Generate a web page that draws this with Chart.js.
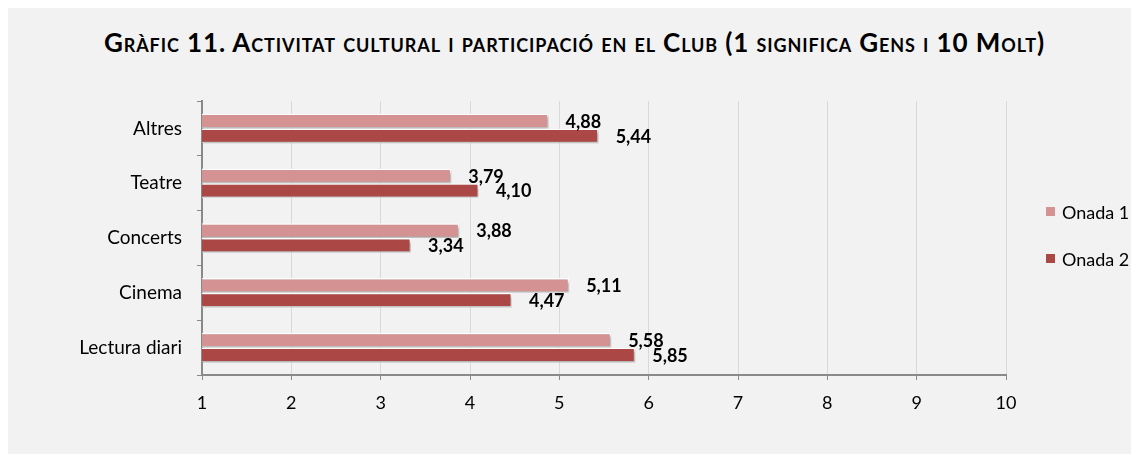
<!DOCTYPE html>
<html>
<head>
<meta charset="utf-8">
<script src="https://cdn.jsdelivr.net/npm/chart.js@4.4.0/dist/chart.umd.min.js"></script>
<style>
    html, body { margin: 0; padding: 0; background: #ffffff; }
    body { width: 1131px; height: 454px; position: relative; overflow: hidden; font-family: Lato, 'Open Sans', sans-serif; }
    .panel { position: absolute; left: 8px; top: 8px; right: 0; bottom: 0; background: #f2f2f2; }
    .title { position: absolute; left: 9px; width: 1131px; top: 27px; line-height: 30px; text-align: center; font-weight: bold; font-size: 26px; letter-spacing: 0.9px; font-variant: small-caps; color: #000; }
    #chart { position: absolute; left: 0; top: 0; }
    .legend { position: absolute; left: 1046px; height: 22px; line-height: 22px; font-size: 18px; color: #000; white-space: nowrap; }
    .legend span { position: absolute; left: 0; top: 6px; width: 9px; height: 9px; }
    .legend b { position: absolute; left: 16px; top: 0; font-weight: normal; }
</style>
</head>
<body>
<div class="panel"></div>
<div class="title">Gràfic 11. Activitat cultural i participació en el Club (1 significa Gens i 10 Molt)</div>
<canvas id="chart" width="1131" height="454"></canvas>
<div class="legend" id="leg1" style="top:201px"></div>
<div class="legend" id="leg2" style="top:248px"></div>
<script>
    // Data
    const categories = ['Altres', 'Teatre', 'Concerts', 'Cinema', 'Lectura diari'];
    const onada1 = [4.88, 3.79, 3.88, 5.11, 5.58];
    const onada2 = [5.44, 4.10, 3.34, 4.47, 5.85];
    const seriesNames = ['Onada 1', 'Onada 2'];
    const seriesColors = ['#d49392', '#ab4846'];

    // Legend (HTML)
    ['leg1', 'leg2'].forEach(function(id, i) {
        document.getElementById(id).innerHTML = '<span style="background:' + seriesColors[i] + '"></span><b>' + seriesNames[i] + '</b>';
    });

    // Bar shadow
    const shadowPlugin = {
        id: 'barShadow',
        beforeDatasetsDraw: function(chart) {
            const ctx = chart.ctx;
            ctx.save();
            ctx.shadowColor = 'rgba(0, 0, 0, 0.35)';
            ctx.shadowBlur = 3;
            ctx.shadowOffsetX = 2;
            ctx.shadowOffsetY = 2;
        },
        afterDatasetsDraw: function(chart) {
            chart.ctx.restore();
        }
    };

    // Value labels
    const valueLabels = {
        id: 'valueLabels',
        afterDraw: function(chart) {
            const ctx = chart.ctx;
            ctx.save();
            ctx.font = 'bold 18px Lato, sans-serif';
            ctx.fillStyle = '#000';
            ctx.textBaseline = 'middle';
            ctx.textAlign = 'left';
            chart.data.datasets.forEach(function(ds, di) {
                chart.getDatasetMeta(di).data.forEach(function(bar, i) {
                    const txt = ds.data[i].toFixed(2).replace('.', ',');
                    ctx.fillText(txt, bar.x + 17, bar.y + 1);
                });
            });
            ctx.restore();
        }
    };

    const ctx = document.getElementById('chart').getContext('2d');
    const chart = new Chart(ctx, {
        type: 'bar',
        data: {
            labels: categories,
            datasets: [
                {
                    label: seriesNames[0],
                    data: onada1,
                    backgroundColor: seriesColors[0],
                    borderColor: '#ffffff',
                    borderWidth: 1.5,
                    barPercentage: 1,
                    categoryPercentage: 0.54
                },
                {
                    label: seriesNames[1],
                    data: onada2,
                    backgroundColor: seriesColors[1],
                    borderColor: '#ffffff',
                    borderWidth: 1.5,
                    barPercentage: 1,
                    categoryPercentage: 0.54
                }
            ]
        },
        options: {
            indexAxis: 'y',
            responsive: false,
            animation: false,
            layout: {
                padding: { left: 0, right: 125, top: 101, bottom: 0 }
            },
            plugins: {
                legend: { display: false },
                tooltip: { enabled: false }
            },
            scales: {
                x: {
                    min: 1,
                    max: 10,
                    ticks: {
                        stepSize: 1,
                        color: '#000',
                        padding: 12,
                        font: { family: 'Lato', size: 18 }
                    },
                    grid: {
                        color: '#d9d9d9',
                        tickColor: '#898989',
                        tickLength: 5
                    },
                    border: { color: '#898989', width: 2 },
                    afterFit: function(scale) { scale.height = 79; }
                },
                y: {
                    ticks: {
                        color: '#000',
                        padding: 15,
                        font: { family: 'Lato', size: 19 }
                    },
                    grid: {
                        offset: true,
                        drawOnChartArea: false,
                        tickColor: '#898989',
                        tickLength: 5
                    },
                    border: { color: '#898989', width: 2 },
                    afterFit: function(scale) { scale.width = 202; }
                }
            }
        },
        plugins: [shadowPlugin, valueLabels]
    });
</script>
</body>
</html>
